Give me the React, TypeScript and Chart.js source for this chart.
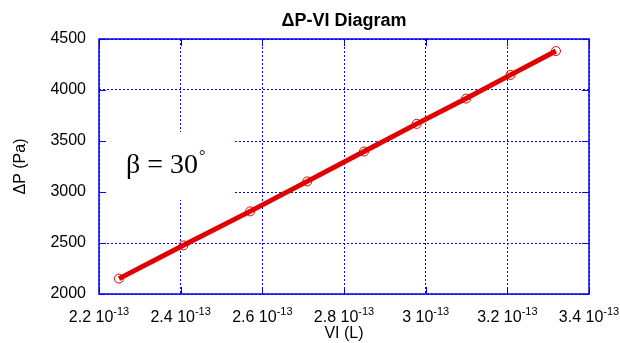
import React, { useEffect, useRef } from "react";
import { Chart, registerables } from "chart.js";

Chart.register(...registerables);

// ---- data ----
const viValues = [2.249e-13, 2.407e-13, 2.57e-13, 2.71e-13, 2.849e-13, 2.978e-13, 3.099e-13, 3.208e-13, 3.319e-13];
const dpValues = [2151, 2477, 2810, 3104, 3397, 3668, 3916, 4148, 4382];
const xTickValues = [2.2e-13, 2.4e-13, 2.6e-13, 2.8e-13, 3.0e-13, 3.2e-13, 3.4e-13];
const xTickMantissas = ["2.2", "2.4", "2.6", "2.8", "3", "3.2", "3.4"];
const xTickExponent = "-13";
const yTickValues = [2000, 2500, 3000, 3500, 4000, 4500];
const titleText = "ΔP-VI Diagram";
const xTitle = "VI (L)";
const yTitle = "ΔP (Pa)";
const annotationMain = "β = 30";
const annotationSup = "°";

const BLUE = "#0000ff";
const RED = "#e00000";
const SANS = "'Liberation Sans', Arial, sans-serif";
const SERIF = "'Liberation Serif', 'Times New Roman', serif";

const framePlugin = {
  id: "framePlugin",
  beforeDatasetsDraw(chart: any) {
    const { ctx, chartArea: a, scales } = chart;
    const xs = scales.x;
    const ys = scales.y;
    ctx.save();
    // white box behind annotation
    ctx.fillStyle = "#ffffff";
    ctx.fillRect(a.left + 1, a.top + 93, 135, 68);
    // frame
    ctx.strokeStyle = BLUE;
    ctx.lineWidth = 1.5;
    ctx.setLineDash([]);
    ctx.strokeRect(a.left, a.top, a.right - a.left, a.bottom - a.top);
    // inward ticks
    const tl = 7;
    ctx.lineWidth = 1;
    ctx.beginPath();
    xTickValues.forEach((v) => {
      const px = Math.round(xs.getPixelForValue(v)) + 0.5;
      ctx.moveTo(px, a.bottom);
      ctx.lineTo(px, a.bottom - tl);
      ctx.moveTo(px, a.top);
      ctx.lineTo(px, a.top + tl);
    });
    yTickValues.forEach((v) => {
      const py = Math.round(ys.getPixelForValue(v)) + 0.5;
      ctx.moveTo(a.left, py);
      ctx.lineTo(a.left + tl, py);
      ctx.moveTo(a.right, py);
      ctx.lineTo(a.right - tl, py);
    });
    ctx.stroke();
    // annotation
    ctx.fillStyle = "#000000";
    ctx.textBaseline = "alphabetic";
    ctx.textAlign = "left";
    ctx.font = `28px ${SERIF}`;
    const ax = a.left + 27;
    const ay = a.top + 134;
    ctx.fillText(annotationMain, ax, ay);
    const w = ctx.measureText(annotationMain).width;
    ctx.font = `16px ${SERIF}`;
    ctx.fillText(annotationSup, ax + w + 1, ay - 12);
    ctx.restore();
  },
  afterDraw(chart: any) {
    const { ctx, chartArea: a, scales } = chart;
    const xs = scales.x;
    ctx.save();
    ctx.fillStyle = "#000000";
    ctx.textBaseline = "alphabetic";
    // x tick labels with superscript exponent
    xTickValues.forEach((v, i) => {
      const px = xs.getPixelForValue(v);
      const main = xTickMantissas[i] + " 10";
      ctx.font = `16px ${SANS}`;
      const mw = ctx.measureText(main).width;
      ctx.font = `11px ${SANS}`;
      const sw = ctx.measureText(xTickExponent).width;
      const start = px - (mw + sw) / 2;
      ctx.font = `16px ${SANS}`;
      ctx.textAlign = "left";
      ctx.fillText(main, start, a.bottom + 28);
      ctx.font = `11px ${SANS}`;
      ctx.fillText(xTickExponent, start + mw, a.bottom + 21);
    });
    // title
    const cx = (a.left + a.right) / 2;
    ctx.textAlign = "center";
    ctx.font = `bold 18px ${SANS}`;
    ctx.fillText(titleText, cx, 26);
    // x title
    ctx.font = `16px ${SANS}`;
    ctx.fillText(xTitle, cx, a.bottom + 44);
    // y title
    ctx.translate(25, (a.top + a.bottom) / 2);
    ctx.rotate(-Math.PI / 2);
    ctx.fillText(yTitle, 0, 0);
    ctx.restore();
  },
};

export default function App() {
  const ref = useRef<HTMLCanvasElement | null>(null);
  useEffect(() => {
    if (!ref.current) return;
    const chart = new Chart(ref.current, {
      type: "line",
      data: {
        datasets: [
          {
            data: viValues.map((x, i) => ({ x, y: dpValues[i] })),
            borderColor: RED,
            borderWidth: 5,
            pointRadius: 4.5,
            pointBorderWidth: 1,
            pointBorderColor: RED,
            pointBackgroundColor: "rgba(0,0,0,0)",
            tension: 0,
          },
        ],
      },
      options: {
        responsive: false,
        animation: false,
        layout: { padding: { left: 0, top: 39, right: 31, bottom: 0 } },
        plugins: { legend: { display: false }, tooltip: { enabled: false }, title: { display: false } },
        scales: {
          x: {
            type: "linear",
            min: 2.2e-13,
            max: 3.4e-13,
            afterBuildTicks: (s: any) => {
              s.ticks = xTickValues.map((v) => ({ value: v }));
            },
            afterFit: (s: any) => {
              s.height = 49;
            },
            ticks: { display: false },
            grid: { color: BLUE, lineWidth: 1, drawTicks: false },
            border: { display: false, dash: [2, 2] },
          },
          y: {
            type: "linear",
            min: 2000,
            max: 4500,
            afterBuildTicks: (s: any) => {
              s.ticks = yTickValues.map((v) => ({ value: v }));
            },
            afterFit: (s: any) => {
              s.width = 99;
            },
            ticks: {
              color: "#000000",
              padding: 13,
              font: { family: SANS, size: 16 },
              callback: (v: any) => String(v),
            },
            grid: { color: BLUE, lineWidth: 1, drawTicks: false },
            border: { display: false, dash: [2, 2] },
          },
        },
      },
      plugins: [framePlugin],
    } as any);
    return () => chart.destroy();
  }, []);
  return (
    <div style={{ position: "absolute", left: 0, top: 0, width: 620, height: 343, background: "#fff" }}>
      <canvas ref={ref} width={620} height={343} style={{ display: "block" }} />
    </div>
  );
}
